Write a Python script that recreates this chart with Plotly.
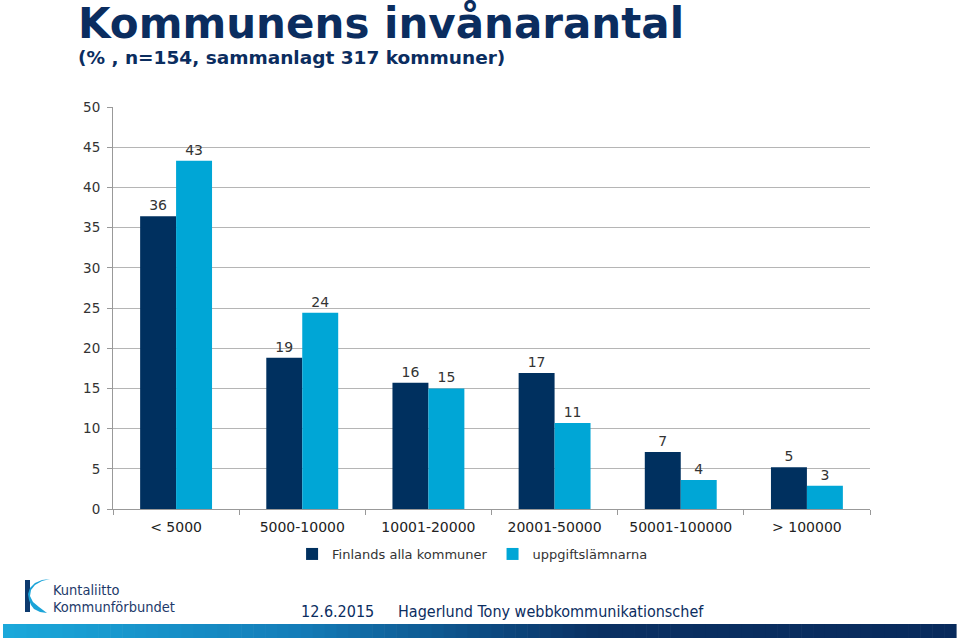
import plotly.graph_objects as go

categories = ["< 5000", "5000-10000", "10001-20000", "20001-50000", "50001-100000", "> 100000"]
finland_all = [36.4, 18.8, 15.7, 16.9, 7.1, 5.2]
respondents = [43.3, 24.4, 15.0, 10.7, 3.6, 2.9]
finland_labels = ["36", "19", "16", "17", "7", "5"]
respondent_labels = ["43", "24", "15", "11", "4", "3"]

DARK = "#00305f"
LIGHT = "#00a6d6"
NAVY = "#0b2d5f"
FONT = "DejaVu Sans, Arial, sans-serif"
NARROW = "Liberation Sans Narrow, DejaVu Sans Condensed, Arial Narrow, sans-serif"

# plot area in pixels
L, R, T, B = 113, 870, 107, 509
W, H = 960, 640


def px(x):
    return (x - L) / (R - L)


def py(y):
    return (B - y) / (B - T)


fig = go.Figure()
fig.add_trace(go.Bar(
    name="Finlands alla kommuner", x=categories, y=finland_all,
    marker=dict(color=DARK, line=dict(width=0)),
    text=finland_labels, textposition="outside", cliponaxis=False,
    textfont=dict(family=FONT, size=14, color="#333333"),
))
fig.add_trace(go.Bar(
    name="uppgiftslämnarna", x=categories, y=respondents,
    marker=dict(color=LIGHT, line=dict(width=0)),
    text=respondent_labels, textposition="outside", cliponaxis=False,
    textfont=dict(family=FONT, size=14, color="#333333"),
))

shapes = []
# gradient footer bar
stops = [(0.0, (27, 168, 218)), (0.3, (20, 125, 185)), (0.5, (12, 75, 130)),
         (0.62, (10, 48, 98)), (1.0, (8, 42, 92))]


def col(t):
    for i in range(len(stops) - 1):
        t0, c0 = stops[i]
        t1, c1 = stops[i + 1]
        if t0 <= t <= t1:
            f = (t - t0) / (t1 - t0)
            c = [round(c0[k] + (c1[k] - c0[k]) * f) for k in range(3)]
            return "rgb(%d,%d,%d)" % tuple(c)
    return "rgb(8,42,92)"


n = 80
x0, x1 = 3, 956
for i in range(n):
    a = x0 + (x1 - x0) * i / n
    b = x0 + (x1 - x0) * (i + 1) / n + 0.6
    shapes.append(dict(type="rect", xref="paper", yref="paper",
                       x0=px(a), x1=px(b), y0=py(638), y1=py(624),
                       fillcolor=col(i / n), line=dict(width=0), layer="above"))


def path(points):
    return "M " + " L ".join("%.5f,%.5f" % (px(x), py(y)) for x, y in points) + " Z"


# logo: navy vertical bar and cyan swoosh
shapes.append(dict(type="path", xref="paper", yref="paper",
                   path=path([(25, 580), (30, 580), (30, 612), (25, 612)]),
                   fillcolor="#0d3a6e", line=dict(width=0)))
shapes.append(dict(type="path", xref="paper", yref="paper",
                   path=path([(50, 579), (42, 581), (35, 585), (31, 590), (30, 596),
                              (33, 602), (39, 607), (47, 613), (40, 612), (34, 609),
                              (31, 605), (29, 600), (28, 594), (30, 588), (35, 583),
                              (42, 580)]),
                   fillcolor="#1ba4d8", line=dict(width=0)))

annotations = [
    dict(text="<b>Kommunens invånarantal</b>", xref="paper", yref="paper",
         x=px(76), y=py(23), xanchor="left", yanchor="middle", showarrow=False,
         font=dict(family=FONT, size=42, color=NAVY)),
    dict(text="<b>(% , n=154, sammanlagt 317 kommuner)</b>", xref="paper", yref="paper",
         x=px(76), y=py(57), xanchor="left", yanchor="middle", showarrow=False,
         font=dict(family=FONT, size=18.5, color=NAVY)),
    dict(text="Kuntaliitto", xref="paper", yref="paper", borderpad=0,
         x=px(52), y=py(590), xanchor="left", yanchor="middle", showarrow=False,
         font=dict(family=NARROW, size=14.5, color="#1d3a6a")),
    dict(text="Kommunförbundet", xref="paper", yref="paper", borderpad=0,
         x=px(52), y=py(607), xanchor="left", yanchor="middle", showarrow=False,
         font=dict(family=NARROW, size=14.5, color="#1d3a6a")),
    dict(text="12.6.2015", xref="paper", yref="paper",
         x=px(299), y=py(611), xanchor="left", yanchor="middle", showarrow=False,
         font=dict(family=NARROW, size=16, color=NAVY)),
    dict(text="Hagerlund Tony webbkommunikationschef", xref="paper", yref="paper",
         x=px(396), y=py(611), xanchor="left", yanchor="middle", showarrow=False,
         font=dict(family=NARROW, size=16, color=NAVY)),
]

fig.update_layout(
    width=W, height=H,
    margin=dict(l=L, r=W - R, t=T, b=H - B, autoexpand=False),
    paper_bgcolor="white", plot_bgcolor="white",
    barmode="group", bargap=0.43, bargroupgap=0,
    font=dict(family=FONT, size=13, color="#333333"),
    showlegend=True,
    legend=dict(orientation="h", x=0.475, xanchor="center", y=py(554), yanchor="middle",
                font=dict(family=FONT, size=13, color="#333333"),
                itemwidth=30, traceorder="normal"),
    shapes=shapes, annotations=annotations,
    xaxis=dict(showline=True, linecolor="#999999", linewidth=1,
               ticks="outside", tickson="boundaries", ticklen=5, tickcolor="#999999",
               ticklabelstandoff=5,
               tickfont=dict(family=FONT, size=14, color="#222222"),
               showgrid=False),
    yaxis=dict(range=[0, 50], dtick=5, showline=True, linecolor="#999999", linewidth=1,
               ticks="outside", ticklen=5, tickcolor="#999999",
               ticklabelstandoff=4,
               showgrid=True, gridcolor="#b5b5b5", gridwidth=1,
               tickfont=dict(family=FONT, size=13.5, color="#333333"),
               zeroline=False),
)

fig.write_html("out.html", config={"displayModeBar": False},
               post_script="document.body.style.margin='0px';")
